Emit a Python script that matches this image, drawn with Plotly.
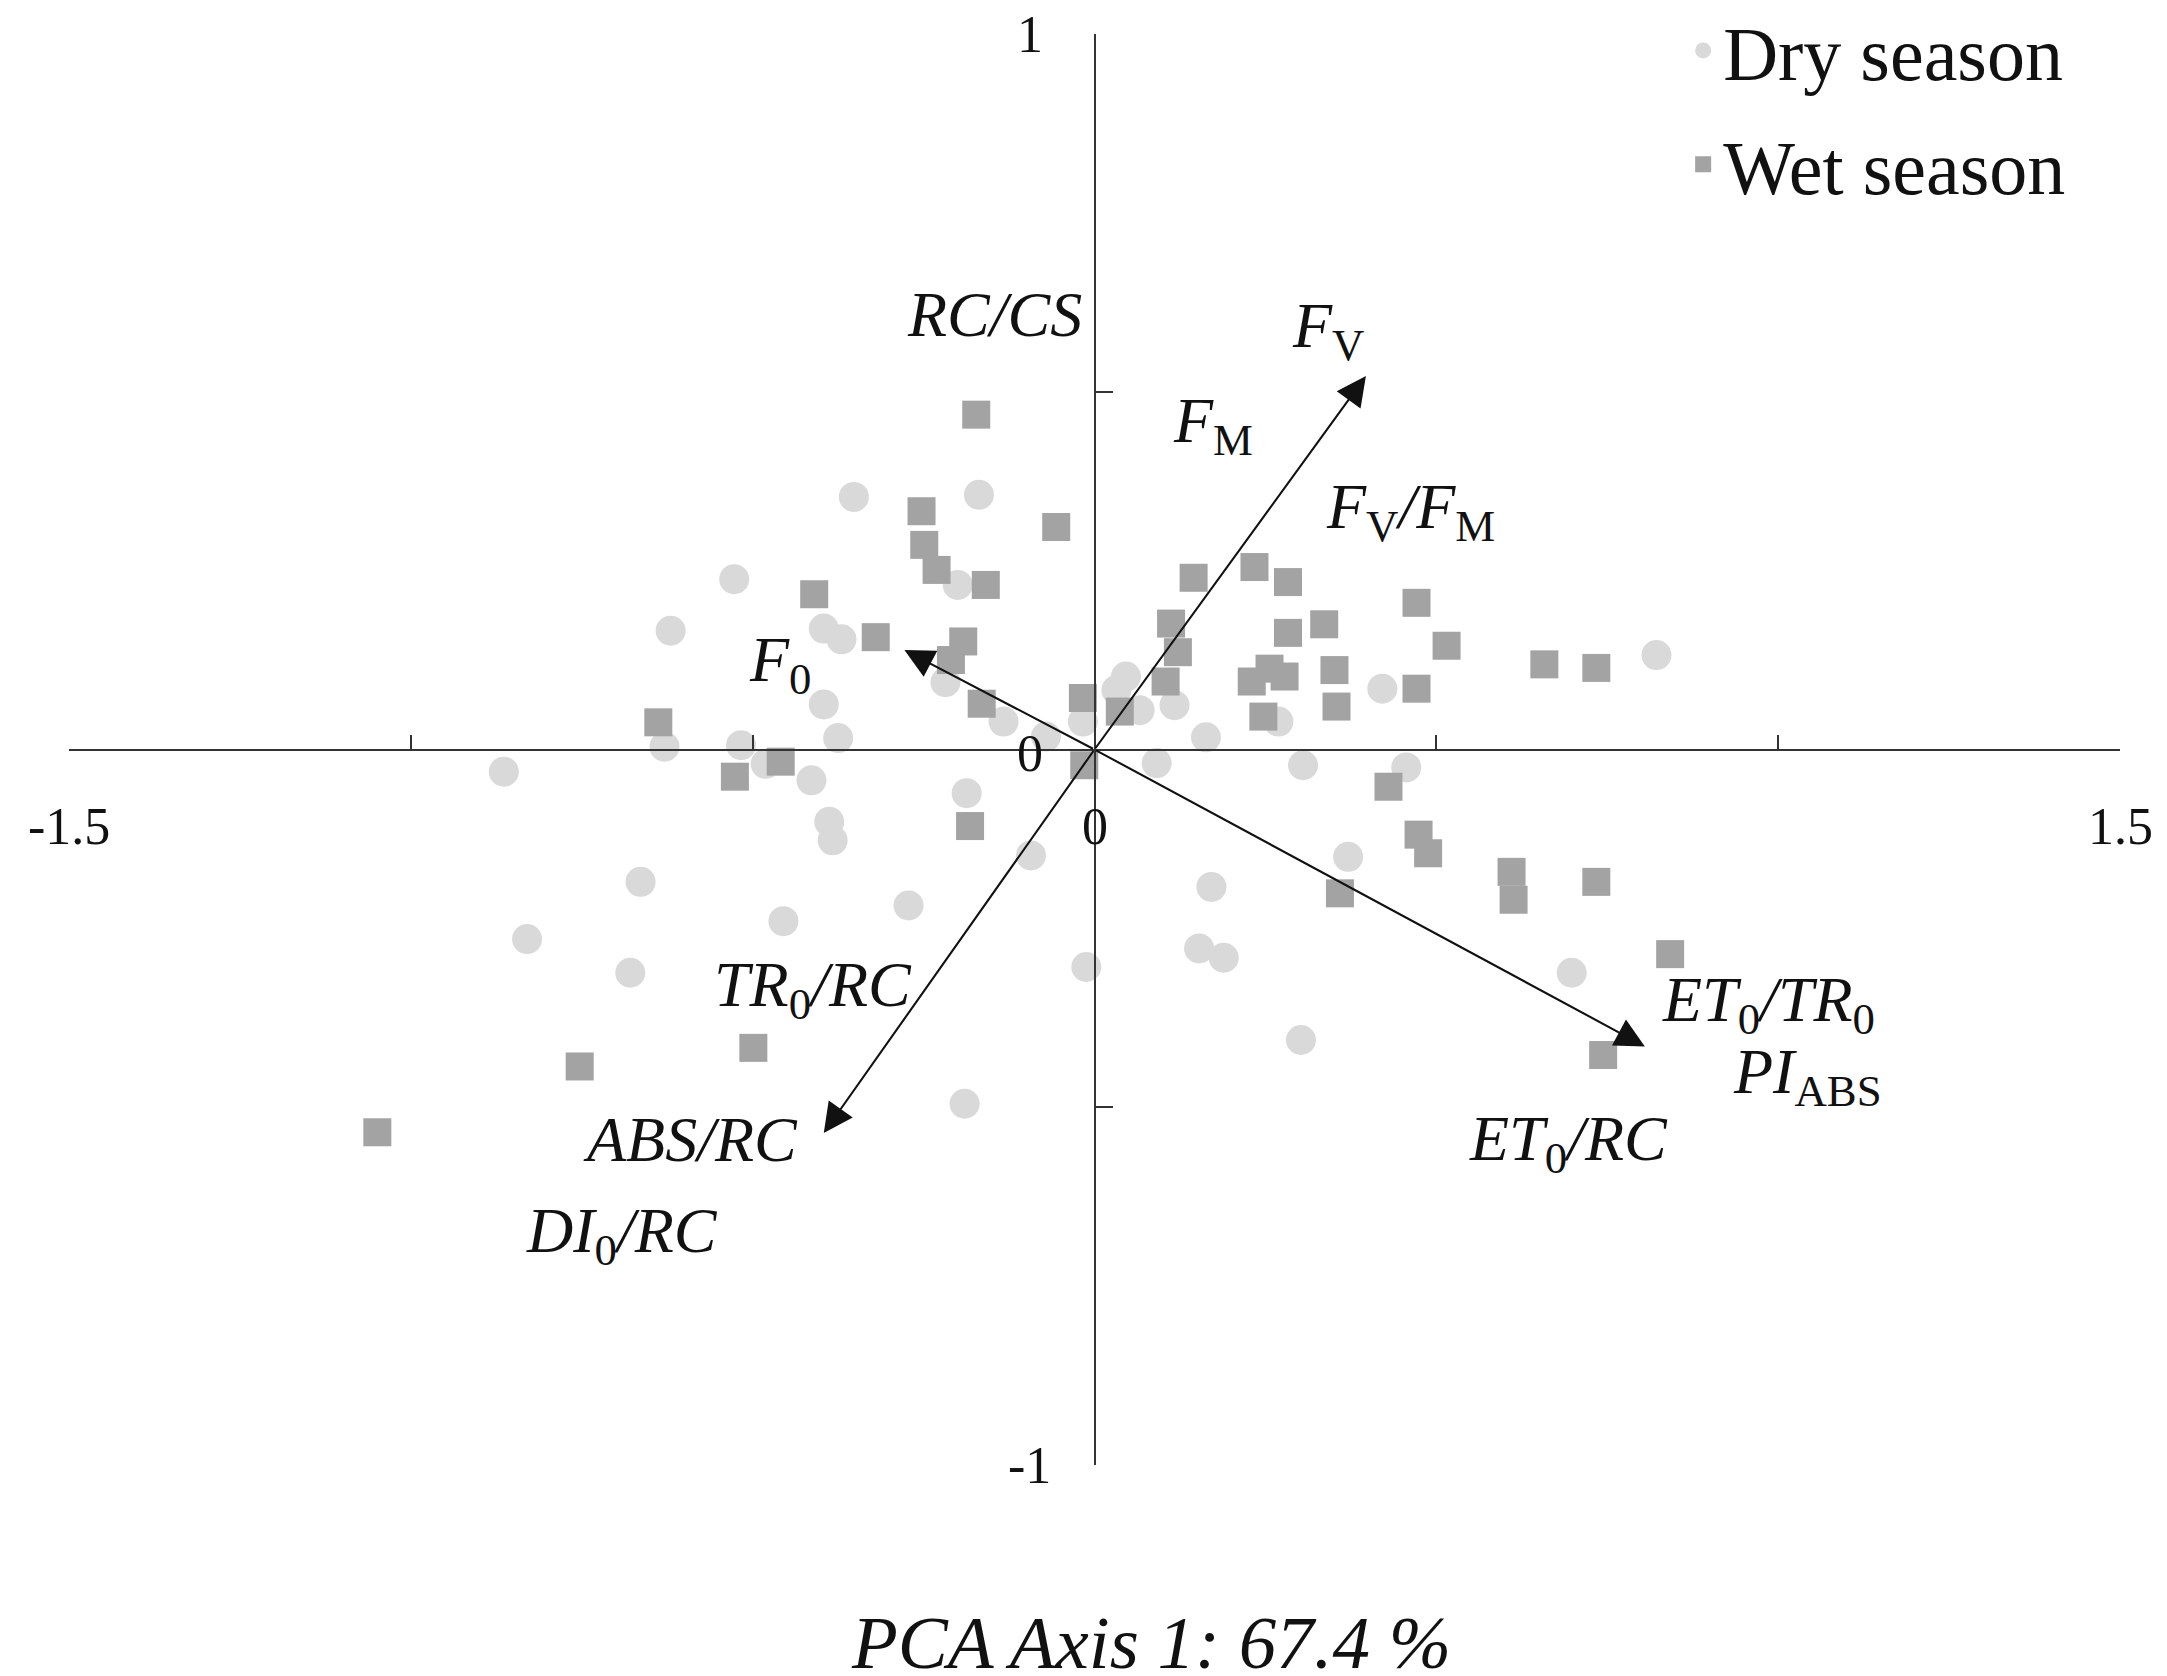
import plotly.graph_objects as go

# ---- Sample scores ----
dry_x = [-0.352, -0.169, -0.527, -0.620, -0.396, -0.370, -0.200, -0.218, -0.396, -0.133,
         -0.629, -0.517, -0.375, -0.864, -0.481, -0.414, -0.187, -0.388, -0.383, -0.093,
         -0.664, -0.272, -0.455, -0.830, -0.679, -0.190, 0.822, 0.421, 0.046, 0.091,
         0.305, 0.456, 0.371, 0.171, 0.153, 0.189, -0.012, 0.698, 0.302, 0.163,
         -0.071, -0.017, 0.032, 0.066, 0.117, 0.269]
dry_y = [0.353, 0.356, 0.238, 0.166, 0.169, 0.154, 0.230, 0.094, 0.063, 0.039,
         0.004, 0.006, 0.016, -0.031, -0.020, -0.043, -0.061, -0.101, -0.127, -0.148,
         -0.185, -0.218, -0.240, -0.265, -0.312, -0.495, 0.132, 0.085, 0.102, -0.019,
         -0.022, -0.025, -0.150, -0.192, -0.278, -0.291, -0.304, -0.312, -0.406, 0.017,
         0.018, 0.039, 0.083, 0.055, 0.062, 0.039]

wet_x = [-0.173, -0.253, -0.249, -0.231, -0.159, -0.056, -0.410, -0.320, -0.192, -0.210,
         -0.165, -0.638, -0.526, -0.459, -0.182, -0.499, -0.753, -1.049, -0.017, -0.015,
         0.145, 0.234, 0.283, 0.112, 0.122, 0.104, 0.037, 0.283, 0.336, 0.256,
         0.230, 0.278, 0.351, 0.247, 0.354, 0.471, 0.515, 0.471, 0.658, 0.734,
         0.430, 0.474, 0.488, 0.610, 0.613, 0.734, 0.359, 0.842, 0.744]
wet_y = [0.468, 0.333, 0.286, 0.251, 0.230, 0.311, 0.217, 0.157, 0.151, 0.125,
         0.064, 0.038, -0.038, -0.017, -0.107, -0.417, -0.443, -0.535, 0.072, -0.022,
         0.240, 0.255, 0.234, 0.176, 0.136, 0.095, 0.053, 0.163, 0.175, 0.113,
         0.095, 0.102, 0.111, 0.046, 0.060, 0.205, 0.145, 0.085, 0.119, 0.114,
         -0.052, -0.119, -0.145, -0.171, -0.210, -0.185, -0.201, -0.286, -0.427]

# ---- Variable loading vectors ----
vec_x = [-0.278, 0.397, -0.396, 0.805]
vec_y = [0.139, 0.522, -0.536, -0.415]

# ---- Variable labels ----
var_labels = [
    "<i>RC/CS</i>",
    "<i>F</i><sub>V</sub>",
    "<i>F</i><sub>M</sub>",
    "<i>F</i><sub>V</sub><i>/F</i><sub>M</sub>",
    "<i>F</i><sub>0</sub>",
    "<i>TR</i><sub>0</sub><i>/RC</i>",
    "<i>ABS/RC</i>",
    "<i>DI</i><sub>0</sub><i>/RC</i>",
    "<i>ET</i><sub>0</sub><i>/TR</i><sub>0</sub>",
    "<i>PI</i><sub>ABS</sub>",
    "<i>ET</i><sub>0</sub><i>/RC</i>",
]
var_label_x = [-0.147, 0.342, 0.173, 0.462, -0.459, -0.412, -0.591, -0.691, 0.986, 1.043, 0.693]
var_label_y = [0.608, 0.586, 0.453, 0.334, 0.119, -0.335, -0.545, -0.679, -0.355, -0.456, -0.550]

# ---- Tick labels ----
xtick_vals = [-1.5, -1, -0.5, 0, 0.5, 1, 1.5]
ytick_vals = [-1, -0.5, 0, 0.5, 1]
xlabel_vals = [-1.5, 0, 1.5]
xlabel_text = ["-1.5", "0", "1.5"]
ylabel_vals = [1, 0, -1]
ylabel_text = ["1", "0", "-1"]

FONT = "Liberation Serif"
AX_COLOR = "#333333"

fig = go.Figure()
fig.add_trace(go.Scatter(
    x=dry_x, y=dry_y, mode="markers", name="Dry season", legendgroup="dry",
    marker=dict(symbol="circle", size=30, color="#d9d9d9", line=dict(width=0)),
    cliponaxis=False,
))
fig.add_trace(go.Scatter(
    x=wet_x, y=wet_y, mode="markers", name="Wet season", legendgroup="wet",
    marker=dict(symbol="square", size=28, color="#a3a3a3", line=dict(width=0)),
    cliponaxis=False,
))

annotations = []
# arrows from origin
for vx, vy in zip(vec_x, vec_y):
    annotations.append(dict(
        x=vx, y=vy, ax=0, ay=0, xref="x", yref="y", axref="x", ayref="y",
        text="", showarrow=True, arrowhead=2, arrowsize=2.8, arrowwidth=2.1,
        arrowcolor="#111111", standoff=0, startstandoff=0,
    ))
# variable labels
for t, lx, ly in zip(var_labels, var_label_x, var_label_y):
    annotations.append(dict(
        x=lx, y=ly, xref="x", yref="y", text=t, showarrow=False,
        xanchor="center", yanchor="middle",
        font=dict(family=FONT, size=64, color="#111111"),
    ))
# x tick labels
for v, t in zip(xlabel_vals, xlabel_text):
    annotations.append(dict(
        x=v, y=-0.108, xref="x", yref="y", text=t, showarrow=False,
        xanchor="center", yanchor="middle",
        font=dict(family=FONT, size=52, color="#111111"),
    ))
# y tick labels
for v, t in zip(ylabel_vals, ylabel_text):
    annotations.append(dict(
        x=-0.095, y=v + (-0.005 if v == 0 else 0), xref="x", yref="y", text=t, showarrow=False,
        xanchor="center", yanchor="middle",
        font=dict(family=FONT, size=52, color="#111111"),
    ))
# axis title
annotations.append(dict(
    x=0.5276, y=-0.124, xref="paper", yref="paper",
    text="<i>PCA Axis 1: 67.4 %</i>", showarrow=False,
    xanchor="center", yanchor="middle",
    font=dict(family=FONT, size=75, color="#111111"),
))

fig.update_layout(
    width=2159, height=1668,
    margin=dict(l=61, r=47, t=26, b=211, autoexpand=False),
    paper_bgcolor="white", plot_bgcolor="white",
    font=dict(family=FONT, color="#111111"),
    xaxis=dict(
        range=[-1.5, 1.5], domain=[0, 1], anchor="free", position=0.5,
        showline=True, linecolor=AX_COLOR, linewidth=2,
        ticks="inside", tickvals=xtick_vals, ticklen=14, tickwidth=2, tickcolor=AX_COLOR,
        showticklabels=False, showgrid=False, zeroline=False,
    ),
    yaxis=dict(
        range=[-1, 1], domain=[0, 1], anchor="free", position=0.5,
        showline=True, linecolor=AX_COLOR, linewidth=2,
        ticks="inside", tickvals=ytick_vals, ticklen=17, tickwidth=2, tickcolor=AX_COLOR,
        showticklabels=False, showgrid=False, zeroline=False,
    ),
    showlegend=True,
    legend=dict(
        x=0.787, y=1.0276, xanchor="left", yanchor="top",
        font=dict(family=FONT, size=76, color="#111111"),
        bgcolor="rgba(0,0,0,0)", borderwidth=0,
        tracegroupgap=12, itemsizing="trace",
    ),
    annotations=annotations,
)

fig.write_html("out.html")
